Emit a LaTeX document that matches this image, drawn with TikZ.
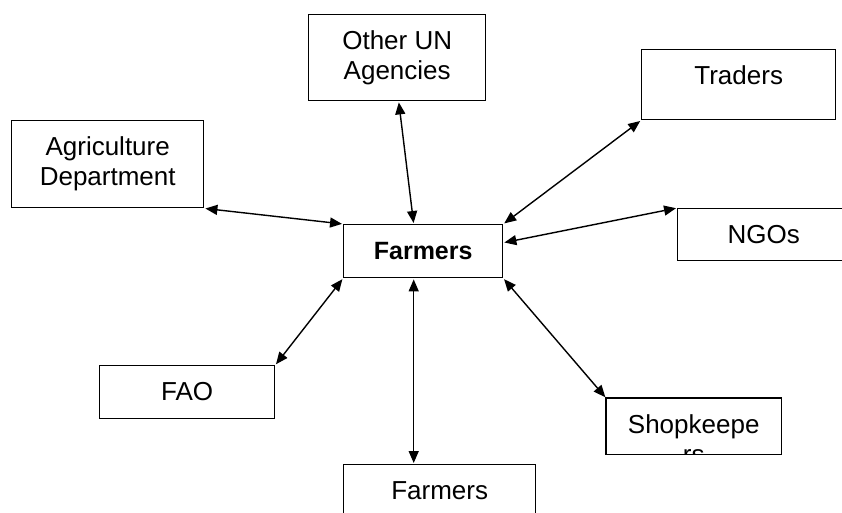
\documentclass[tikz,border=0pt]{standalone}
\usepackage{fontspec}
\setmainfont{Liberation Sans}
\usetikzlibrary{arrows.meta}

% text block of a box: centred lines hanging from the top edge
\newcommand{\boxlines}[3]{\parbox[c][#2][t]{#1}{\centering\vspace*{14pt}\strut #3}}

\tikzset{
  box/.style={draw, line width=1.4pt, inner sep=0pt, anchor=north west,
              font=\fontsize{26}{30}\selectfont},
  hubbox/.style={box, font=\fontsize{25}{30}\selectfont\bfseries},
  link/.style={line width=1.4pt,
               {Triangle[length=12pt,width=10pt]}-{Triangle[length=12pt,width=10pt]},
               shorten <=1pt, shorten >=1pt}
}

\begin{document}
\begin{tikzpicture}[x=1pt,y=-1pt]
  \useasboundingbox (0,0) rectangle (842,512);
  \fill[white] (0,0) rectangle (842,512);

  % partner boxes
  \node[box] (ou)   at (308,14)  {\boxlines{177pt}{86pt}{Other UN\\Agencies}};
  \node[box] (trad) at (641,49)  {\boxlines{194pt}{70pt}{Traders}};
  \node[box] (agri) at (11,120)  {\boxlines{192pt}{87pt}{Agriculture\\Department}};
  \node[box] (ngo)  at (677,208) {\boxlines{172pt}{52pt}{NGOs}};
  \node[box] (fao)  at (99,365)  {\boxlines{175pt}{53pt}{FAO}};
  % the wrapped second line is cut off by the box frame
  \begin{scope}
    \clip (606,398) rectangle (780,453);
    \node[box, draw=none] (shop) at (606,398) {\boxlines{174pt}{55pt}{Shopkeepe\\rs}};
  \end{scope}
  \draw[line width=1.4pt] (shop.north west) rectangle (shop.south east);
  \node[box] (fb)   at (343,464) {\boxlines{192pt}{80pt}{Farmers}};

  % central box
  \node[hubbox] (farm) at (343,224) {\boxlines{159pt}{53pt}{Farmers}};

  % two-way links
  \draw[link] (agri.south east) -- (farm.north west);
  \draw[link] ([xshift=1.5pt]ou.south) -- ([xshift=-9.5pt]farm.north);
  \draw[link] (farm.north east) -- (trad.south west);
  \draw[link] ([yshift=8.5pt]farm.east) -- (ngo.north west);
  \draw[link] (farm.south west) -- (fao.north east);
  \draw[link] (farm.south east) -- (shop.north west);
  \draw[link] ([xshift=-9.5pt]farm.south) -- ([xshift=-9.5pt]farm.south |- fb.north);
\end{tikzpicture}
\end{document}
